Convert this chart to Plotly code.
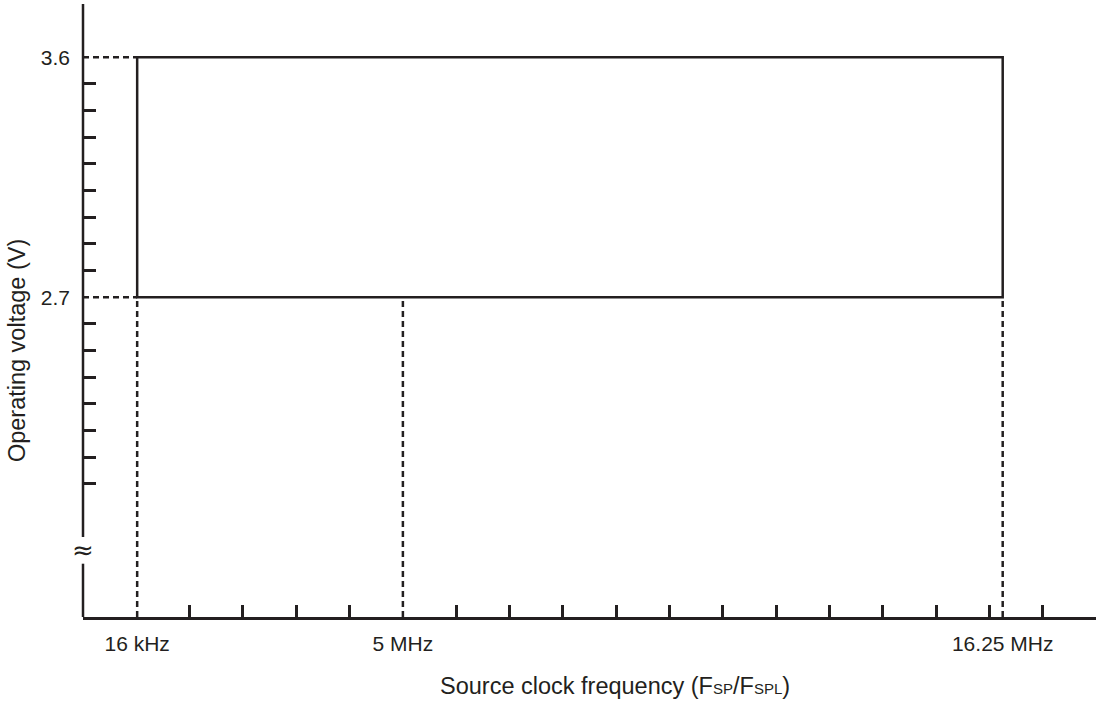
import plotly.graph_objects as go

# ---- data (MHz / V) ----
freq_min_mhz = 0.016      # 16 kHz
freq_mid_mhz = 5.0        # 5 MHz
freq_max_mhz = 16.25      # 16.25 MHz
volt_min = 2.7
volt_max = 3.6

x_label_vals = [freq_min_mhz, freq_mid_mhz, freq_max_mhz]
x_label_text = ["16 kHz", "5 MHz", "16.25 MHz"]
x_minor_vals = [1, 2, 3, 4, 6, 7, 8, 9, 10, 11, 12, 13, 14, 15, 16, 17]

y_label_vals = [volt_min, volt_max]
y_label_text = ["2.7", "3.6"]
y_minor_vals = [2.0, 2.1, 2.2, 2.3, 2.4, 2.5, 2.6, 2.8, 2.9, 3.0, 3.1, 3.2, 3.3, 3.4, 3.5]

x_range = [-1.0, 18.0]
y_range = [1.5, 3.8]
y_break = [1.7, 1.8]

FONT = "Liberation Sans, Arial, Helvetica, sans-serif"
BLACK = "#231f20"
DASH = "6px,4px"
LW = 2.5

fig = go.Figure()
# invisible trace to establish axes
fig.add_trace(go.Scatter(x=[freq_min_mhz, freq_max_mhz], y=[volt_min, volt_max],
                         mode="markers", marker=dict(opacity=0), hoverinfo="skip",
                         showlegend=False))

shapes = []
# operating region rectangle
shapes.append(dict(type="rect", xref="x", yref="y",
                   x0=freq_min_mhz, x1=freq_max_mhz, y0=volt_min, y1=volt_max,
                   line=dict(color=BLACK, width=LW), layer="above"))
# horizontal dotted guides from y axis
for v in [volt_min, volt_max]:
    shapes.append(dict(type="line", xref="x", yref="y",
                       x0=x_range[0], x1=freq_min_mhz, y0=v, y1=v,
                       line=dict(color=BLACK, width=LW, dash=DASH)))
# vertical dotted guides down to x axis
for f in x_label_vals:
    shapes.append(dict(type="line", xref="x", yref="y",
                       x0=f, x1=f, y0=y_range[0], y1=volt_min,
                       line=dict(color=BLACK, width=LW, dash=DASH)))
# y axis line with break
shapes.append(dict(type="line", xref="paper", yref="y", x0=0, x1=0,
                   y0=y_range[0], y1=y_break[0], line=dict(color=BLACK, width=LW)))
shapes.append(dict(type="line", xref="paper", yref="y", x0=0, x1=0,
                   y0=y_break[1], y1=y_range[1], line=dict(color=BLACK, width=LW)))

annotations = [
    dict(text="≈", xref="paper", yref="y", x=0, y=sum(y_break) / 2,
         showarrow=False, font=dict(family="DejaVu Sans, sans-serif", size=26, color=BLACK),
         xanchor="center", yanchor="middle"),
    dict(text='Source clock frequency (F<span style="font-size:15px">SP</span>/F<span style="font-size:15px">SPL</span>)',
         xref="paper", yref="paper", x=0.525, y=-0.112, showarrow=False,
         font=dict(family=FONT, size=23.5, color=BLACK), xanchor="center", yanchor="middle"),
    dict(text="Operating voltage (V)", xref="paper", yref="paper", x=-0.065, y=0.434,
         textangle=-90, showarrow=False,
         font=dict(family=FONT, size=23.5, color=BLACK), xanchor="center", yanchor="middle"),
]

fig.update_layout(
    width=1098, height=701,
    margin=dict(l=83, r=2, t=4, b=84),
    plot_bgcolor="white", paper_bgcolor="white",
    font=dict(family=FONT, size=21, color=BLACK),
    shapes=shapes, annotations=annotations,
    xaxis=dict(range=x_range, showgrid=False, zeroline=False,
               showline=True, linecolor=BLACK, linewidth=LW,
               tickmode="array", tickvals=x_label_vals, ticktext=x_label_text,
               ticks="", ticklabelstandoff=6,
               tickfont=dict(family=FONT, size=21, color=BLACK),
               minor=dict(tickmode="array", tickvals=x_minor_vals, ticks="inside",
                          ticklen=12, tickwidth=LW, tickcolor=BLACK, showgrid=False)),
    yaxis=dict(range=y_range, showgrid=False, zeroline=False, showline=False,
               tickmode="array", tickvals=y_label_vals, ticktext=y_label_text,
               ticks="", ticklabelstandoff=12,
               tickfont=dict(family=FONT, size=21, color=BLACK),
               minor=dict(tickmode="array", tickvals=y_minor_vals, ticks="inside",
                          ticklen=13, tickwidth=LW, tickcolor=BLACK, showgrid=False)),
    showlegend=False,
)

fig.write_html("out.html", config={"displayModeBar": False},
               post_script="document.body.style.margin='0';")
